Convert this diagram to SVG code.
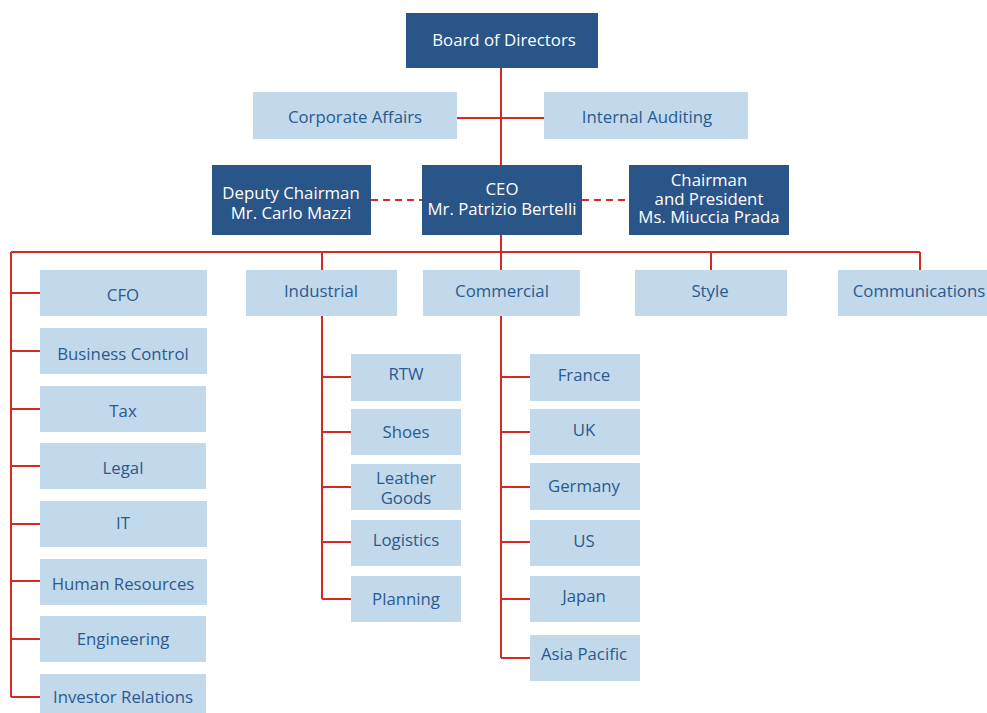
<svg xmlns="http://www.w3.org/2000/svg" width="987" height="713" viewBox="0 0 987 713">
<style>
.d{fill:#2a5588}
.l{fill:#c2d8eb}
.tw{fill:#ffffff;font-family:"Open Sans","Liberation Sans",sans-serif;font-size:16.8px;text-anchor:middle}
.tb{fill:#2b5a8f;font-family:"Open Sans","Liberation Sans",sans-serif;font-size:16.8px;text-anchor:middle}
.c{stroke:#d42a25;stroke-width:2;fill:none}
.dash{stroke:#d42a25;stroke-width:2;fill:none;stroke-dasharray:7 5}
</style>
<g id="connectors">
<path class="c" d="M501,68 V165 M457,118 H544"/>
<path class="dash" d="M371,200 H422 M582,200 H629"/>
<path class="c" d="M501,235 V252 M11,252 H920 M11,252 V697 M322,252 V270 M711,252 V270 M920,252 V270"/>
<path class="c" d="M11,293 H40 M11,351 H40 M11,409 H40 M11,466 H40 M11,524 H40 M11,581 H40 M11,639 H40 M11,697 H40"/>
<path class="c" d="M322,316 V599 M322,377 H351 M322,432 H351 M322,487 H351 M322,542 H351 M322,599 H351"/>
<path class="c" d="M501,252 V270 M501,316 V658 M501,377 H530 M501,432 H530 M501,487 H530 M501,542 H530 M501,599 H530 M501,658 H530"/>
</g>
<g id="board"><rect class="d" x="406" y="13" width="192" height="55"/><text class="tw" x="504" y="46">Board of Directors</text></g>
<g id="corporate-affairs"><rect class="l" x="253" y="92" width="204" height="47"/><text class="tb" x="355" y="123">Corporate Affairs</text></g>
<g id="internal-auditing"><rect class="l" x="544" y="92" width="204" height="47"/><text class="tb" x="647" y="123">Internal Auditing</text></g>
<g id="deputy"><rect class="d" x="212" y="165" width="159" height="70"/><text class="tw" x="291" y="199">Deputy Chairman</text><text class="tw" x="291" y="219">Mr. Carlo Mazzi</text></g>
<g id="ceo"><rect class="d" x="422" y="165" width="160" height="70"/><text class="tw" x="502" y="195">CEO</text><text class="tw" x="502" y="215">Mr. Patrizio Bertelli</text></g>
<g id="chairman"><rect class="d" x="629" y="165" width="160" height="70"/><text class="tw" x="709" y="186">Chairman</text><text class="tw" x="709" y="205">and President</text><text class="tw" x="709" y="223">Ms. Miuccia Prada</text></g>
<g id="cfo"><rect class="l" x="40" y="270" width="167" height="46"/><text class="tb" x="123" y="301">CFO</text></g>
<g id="business-control"><rect class="l" x="40" y="328" width="167" height="46"/><text class="tb" x="123" y="360">Business Control</text></g>
<g id="tax"><rect class="l" x="40" y="386" width="166" height="46"/><text class="tb" x="123" y="417">Tax</text></g>
<g id="legal"><rect class="l" x="40" y="443" width="166" height="46"/><text class="tb" x="123" y="474">Legal</text></g>
<g id="it"><rect class="l" x="40" y="501" width="167" height="46"/><text class="tb" x="123" y="529">IT</text></g>
<g id="hr"><rect class="l" x="40" y="559" width="167" height="46"/><text class="tb" x="123" y="590">Human Resources</text></g>
<g id="engineering"><rect class="l" x="40" y="616" width="166" height="46"/><text class="tb" x="123" y="645">Engineering</text></g>
<g id="investor-relations"><rect class="l" x="40" y="674" width="166" height="46"/><text class="tb" x="123" y="703">Investor Relations</text></g>
<g id="industrial"><rect class="l" x="246" y="270" width="151" height="46"/><text class="tb" x="321" y="297">Industrial</text></g>
<g id="commercial"><rect class="l" x="423" y="270" width="157" height="46"/><text class="tb" x="502" y="297">Commercial</text></g>
<g id="style"><rect class="l" x="635" y="270" width="152" height="46"/><text class="tb" x="710" y="297">Style</text></g>
<g id="communications"><rect class="l" x="838" y="270" width="157" height="46"/><text class="tb" x="919" y="297">Communications</text></g>
<g id="rtw"><rect class="l" x="351" y="354" width="110" height="47"/><text class="tb" x="406" y="380">RTW</text></g>
<g id="shoes"><rect class="l" x="351" y="409" width="110" height="46"/><text class="tb" x="406" y="438">Shoes</text></g>
<g id="leather-goods"><rect class="l" x="351" y="464" width="110" height="46"/><text class="tb" x="406" y="484">Leather</text><text class="tb" x="406" y="504">Goods</text></g>
<g id="logistics"><rect class="l" x="351" y="520" width="110" height="46"/><text class="tb" x="406" y="546">Logistics</text></g>
<g id="planning"><rect class="l" x="351" y="576" width="110" height="46"/><text class="tb" x="406" y="605">Planning</text></g>
<g id="france"><rect class="l" x="530" y="354" width="110" height="47"/><text class="tb" x="584" y="381">France</text></g>
<g id="uk"><rect class="l" x="530" y="409" width="110" height="46"/><text class="tb" x="584" y="436">UK</text></g>
<g id="germany"><rect class="l" x="530" y="463" width="110" height="47"/><text class="tb" x="584" y="492">Germany</text></g>
<g id="us"><rect class="l" x="530" y="520" width="110" height="46"/><text class="tb" x="584" y="547">US</text></g>
<g id="japan"><rect class="l" x="530" y="576" width="110" height="46"/><text class="tb" x="584" y="602">Japan</text></g>
<g id="asia-pacific"><rect class="l" x="530" y="635" width="110" height="46"/><text class="tb" x="584" y="660">Asia Pacific</text></g>
</svg>
